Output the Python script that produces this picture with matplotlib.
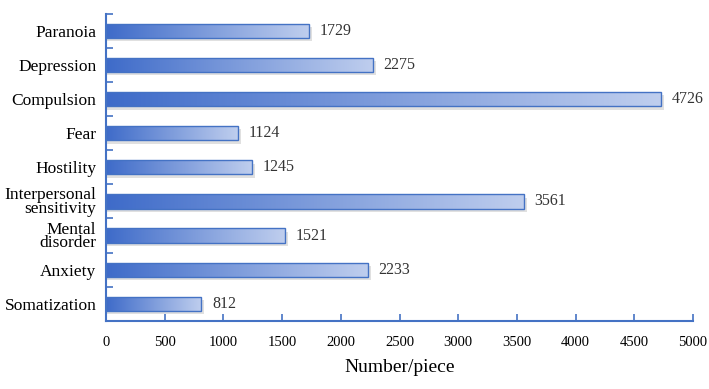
import numpy as np
import matplotlib
matplotlib.use("Agg")
import matplotlib.pyplot as plt
from matplotlib.colors import LinearSegmentedColormap
from matplotlib.patches import Rectangle

categories = ["Paranoia", "Depression", "Compulsion", "Fear", "Hostility",
              "Interpersonal\nsensitivity", "Mental\ndisorder", "Anxiety", "Somatization"]
values = [1729, 2275, 4726, 1124, 1245, 3561, 1521, 2233, 812]
xticks = [0, 500, 1000, 1500, 2000, 2500, 3000, 3500, 4000, 4500, 5000]

plt.rcParams['font.family'] = ['Liberation Serif', 'DejaVu Serif']

fig = plt.figure(figsize=(7.09, 3.89), dpi=100)
ax = fig.add_axes([0.1495, 0.175, 0.828, 0.79])

n = len(categories)
ypos = np.arange(n)[::-1]
height = 0.42
spine_col = "#4472C4"
cmap = LinearSegmentedColormap.from_list("g", ["#3E6BC9", "#BFCEEE"])
grad = np.linspace(0, 1, 256).reshape(1, -1)

for y, v in zip(ypos, values):
    # shadow
    sh = Rectangle((0, y - height / 2 - 0.1), v + 25, height, facecolor="#000000",
                   alpha=0.12, edgecolor="none", zorder=1)
    ax.add_patch(sh)
    bar = ax.barh(y, v, height=height, color="none", edgecolor=spine_col,
                  linewidth=1.0, zorder=3)[0]
    im = ax.imshow(grad, cmap=cmap, aspect="auto",
                   extent=[0, v, y - height / 2, y + height / 2], zorder=2)
    im.set_clip_path(bar)
    ax.text(v + 90, y, str(v), va="center", ha="left", fontsize=11.5, color="#333333")

ax.set_xlim(0, 5000)
ax.set_ylim(-0.5, n - 0.5)
ax.set_xticks(xticks)
ax.set_xticklabels([str(t) for t in xticks], fontsize=10.5)
ax.set_yticks(ypos)
ax.set_yticklabels(categories, fontsize=12.5, linespacing=0.78)
ax.tick_params(axis="y", which="major", length=0, pad=7)
ax.set_yticks(np.arange(-0.5, n, 1.0), minor=True)
ax.tick_params(axis="y", which="minor", length=5, direction="in", color=spine_col, width=1.2)
ax.tick_params(axis="x", length=5, direction="in", color=spine_col, width=1.2, pad=11)
for s in ["top", "right"]:
    ax.spines[s].set_visible(False)
for s in ["left", "bottom"]:
    ax.spines[s].set_color(spine_col)
    ax.spines[s].set_linewidth(1.5)
ax.set_xlabel("Number/piece", fontsize=14, labelpad=7)

fig.savefig("out.png", dpi=100)
